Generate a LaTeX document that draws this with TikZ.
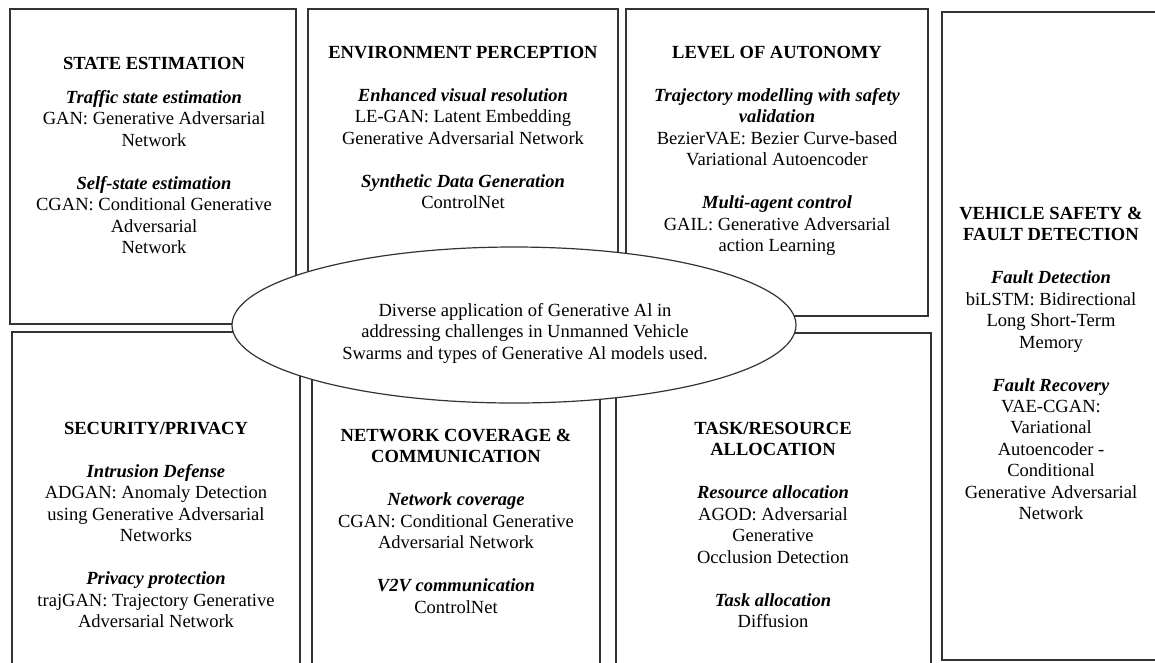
\documentclass[tikz,border=0pt]{standalone}
\usepackage{fontspec}
\setmainfont{Liberation Serif}
\usetikzlibrary{shapes.geometric}

% one drawing unit = one pixel of a 1155 x 662 canvas, y pointing down
\newcommand\pxu{0.75pt}
\newcommand\areatitle[1]{\textbf{#1}}
\newcommand\areaitem[1]{\textbf{\textit{#1}}}
\newcommand\gapline{16.1pt}

\tikzset{
  panel/.style={rectangle, draw=black!80, line width=0.9pt, fill=white,
    anchor=north west, inner sep=0pt, outer sep=0pt},
  paneltext/.style={anchor=north, inner sep=0pt, align=center,
    font=\fontsize{13.9}{16.1}\selectfont},
  hub/.style={ellipse, draw=black!80, line width=0.9pt, fill=white,
    inner sep=0pt, outer sep=0pt}
}

\begin{document}
\begin{tikzpicture}[x=0.75pt, y=-0.75pt]
\useasboundingbox (0,0) rectangle (1155,662);

% application areas
\node[panel, minimum width=286*\pxu, minimum height=315*\pxu] (state) at (10,9) {};
\node[panel, minimum width=310*\pxu, minimum height=307*\pxu] (env) at (308,9) {};
\node[panel, minimum width=302*\pxu, minimum height=307*\pxu] (auto) at (626,9) {};
\node[panel, minimum width=218*\pxu, minimum height=648*\pxu] (safety) at (942,12) {};
\node[panel, minimum width=288*\pxu, minimum height=368*\pxu] (secure) at (12,332) {};
\node[panel, minimum width=288*\pxu, minimum height=367*\pxu] (net) at (312,333) {};
\node[panel, minimum width=315*\pxu, minimum height=367*\pxu] (task) at (616,333) {};

% central topic
\node[hub, minimum width=564*\pxu, minimum height=156*\pxu] (hub) at (514,325) {};
\node[paneltext] (hubtext) at (525,301)
  {\strut Diverse application of Generative Al in\\
   addressing challenges in Unmanned Vehicle\\
   Swarms and types of Generative Al models used.};

% texts of the areas
\node[paneltext] (statetext) at (154,54)
  {\strut\areatitle{STATE ESTIMATION}\\[9.4pt]
   \areaitem{Traffic state estimation}\\
   GAN: Generative Adversarial\\
   Network\\[\gapline]
   \areaitem{Self-state estimation}\\
   CGAN: Conditional Generative\\
   Adversarial\\
   Network};

\node[paneltext] (envtext) at (463,43)
  {\strut\areatitle{ENVIRONMENT PERCEPTION}\\[\gapline]
   \areaitem{Enhanced visual resolution}\\
   LE-GAN: Latent Embedding\\
   Generative Adversarial Network\\[\gapline]
   \areaitem{Synthetic Data Generation}\\
   ControlNet};

\node[paneltext] (autotext) at (777,43)
  {\strut\areatitle{LEVEL OF AUTONOMY}\\[\gapline]
   \areaitem{Trajectory modelling with safety}\\
   \areaitem{validation}\\
   BezierVAE: Bezier Curve-based\\
   Variational Autoencoder\\[\gapline]
   \areaitem{Multi-agent control}\\
   GAIL: Generative Adversarial\\
   action Learning};

\node[paneltext] (safetytext) at (1051,204)
  {\strut\areatitle{VEHICLE SAFETY \&}\\
   \areatitle{FAULT DETECTION}\\[\gapline]
   \areaitem{Fault Detection}\\
   biLSTM: Bidirectional\\
   Long Short-Term\\
   Memory\\[\gapline]
   \areaitem{Fault Recovery}\\
   VAE-CGAN:\\
   Variational\\
   Autoencoder -\\
   Conditional\\
   Generative Adversarial\\
   Network};

\node[paneltext] (securetext) at (156,419)
  {\strut\areatitle{SECURITY/PRIVACY}\\[\gapline]
   \areaitem{Intrusion Defense}\\
   ADGAN: Anomaly Detection\\
   using Generative Adversarial\\
   Networks\\[\gapline]
   \areaitem{Privacy protection}\\
   trajGAN: Trajectory Generative\\
   Adversarial Network};

\node[paneltext] (nettext) at (456,426)
  {\strut\areatitle{NETWORK COVERAGE \&}\\
   \areatitle{COMMUNICATION}\\[\gapline]
   \areaitem{Network coverage}\\
   CGAN: Conditional Generative\\
   Adversarial Network\\[\gapline]
   \areaitem{V2V communication}\\
   ControlNet};

\node[paneltext] (tasktext) at (773,419)
  {\strut\areatitle{TASK/RESOURCE}\\
   \areatitle{ALLOCATION}\\[\gapline]
   \areaitem{Resource allocation}\\
   AGOD: Adversarial\\
   Generative\\
   Occlusion Detection\\[\gapline]
   \areaitem{Task allocation}\\
   Diffusion};
\end{tikzpicture}
\end{document}
